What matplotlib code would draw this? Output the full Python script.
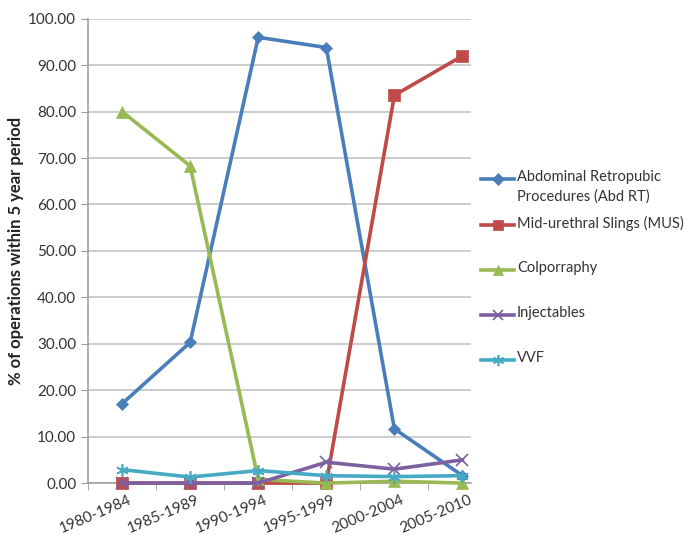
import matplotlib
matplotlib.use("Agg")
import matplotlib.pyplot as plt
import matplotlib.transforms as mtransforms
from matplotlib.lines import Line2D

periods = ["1980-1984", "1985-1989", "1990-1994", "1995-1999", "2000-2004", "2005-2010"]

abd_rt = [17.1, 30.3, 96.0, 93.8, 11.7, 1.6]
mus = [0.0, 0.0, 0.0, 0.0, 83.5, 92.0]
colporraphy = [80.0, 68.3, 0.8, 0.0, 0.4, 0.0]
injectables = [0.0, 0.0, 0.0, 4.5, 3.0, 5.0]
vvf = [2.9, 1.3, 2.7, 1.6, 1.4, 1.6]

series = [
    ("Abdominal Retropubic\nProcedures (Abd RT)", abd_rt, "#4A7EBB", "D", 6.5),
    ("Mid-urethral Slings (MUS)", mus, "#BE4B48", "s", 8),
    ("Colporraphy", colporraphy, "#98B954", "^", 8),
    ("Injectables", injectables, "#7D60A0", "x", 8),
    ("VVF", vvf, "#46AAC5", (6, 2, 0), 9),
]

plt.rcParams["font.family"] = ["Lato", "DejaVu Sans"]

W, H = 688, 535
fig = plt.figure(figsize=(W / 100, H / 100), dpi=100)
ax = fig.add_axes([0.128, 0.097, 0.557, 0.868])

x = list(range(len(periods)))
for label, vals, color, marker, ms in series:
    ax.plot(x, vals, color=color, lw=2.6, marker=marker, markersize=ms,
            markeredgewidth=1.2 if marker in ("x", (6, 2, 0)) else 0.5,
            markeredgecolor=color, zorder=3, clip_on=False)

ax.set_ylim(0, 100)
ax.set_xlim(-0.5, 5.13)
ax.set_yticks(range(0, 101, 10))
ax.set_yticklabels([f"{v:.2f}" for v in range(0, 101, 10)], fontsize=11, color="#333333")
ax.yaxis.grid(True, color="#BEBEBE", lw=1.1)
ax.set_axisbelow(True)

# category labels end at their point, tilted like the spreadsheet default
ax.set_xticks(x)
ax.set_xticklabels(periods, rotation=23, fontsize=11, color="#333333",
                   ha="right", va="center", rotation_mode="anchor")
ax.tick_params(axis="x", length=0, pad=12)
shift = mtransforms.ScaledTranslation(9 / 100, 0, fig.dpi_scale_trans)
for lbl in ax.get_xticklabels():
    lbl.set_transform(lbl.get_transform() + shift)
ax.set_xticks([i + 0.5 for i in range(-1, 5)], minor=True)
ax.tick_params(axis="x", which="minor", length=5, color="#9A9A9A", direction="out")
ax.tick_params(axis="y", length=5, color="#9A9A9A", direction="out")

for side in ("top", "right"):
    ax.spines[side].set_visible(False)
for side in ("left", "bottom"):
    ax.spines[side].set_color("#9A9A9A")
    ax.spines[side].set_linewidth(1.1)

ax.set_ylabel("% of operations within 5 year period", fontsize=12,
              fontweight="bold", color="#222222", labelpad=3)

# legend laid out by hand: marker line aligned with the first text line
legend_rows = [179, 225, 270, 315, 360]
for (label, vals, color, marker, ms), row in zip(series, legend_rows):
    yf = 1 - row / H
    fig.add_artist(Line2D([481 / W, 514 / W], [yf, yf], color=color, lw=2.6,
                          transform=fig.transFigure))
    fig.add_artist(Line2D([497.5 / W], [yf], color=color, marker=marker,
                          markersize=ms * 0.9, markeredgecolor=color,
                          markeredgewidth=1.2 if marker in ("x", (6, 2, 0)) else 0.5,
                          transform=fig.transFigure))
    fig.text(517 / W, yf + 9 / H, label, fontsize=10.5, color="#333333",
             ha="left", va="top", linespacing=1.45)

fig.savefig("out.png", dpi=100)
